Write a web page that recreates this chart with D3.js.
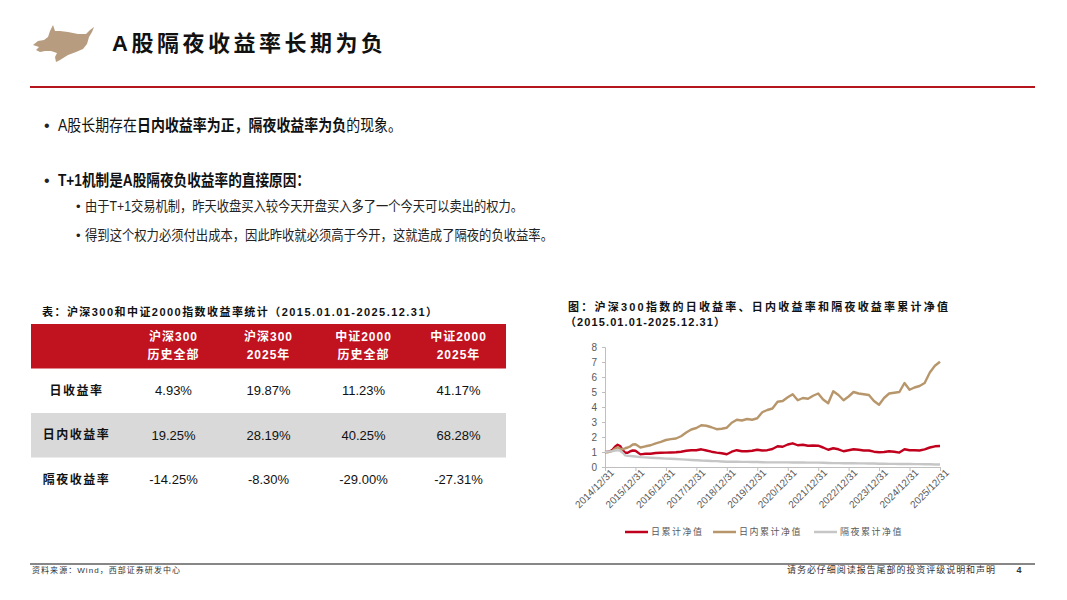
<!DOCTYPE html>
<html>
<head>
<meta charset="utf-8">
<script src="https://cdn.jsdelivr.net/npm/d3@7"></script>
<style>
  body { margin: 0; background: #fff; }
  svg { display: block; font-family: "Liberation Sans", "Noto Sans CJK SC", sans-serif; }
</style>
</head>
<body>
<svg id="page" width="1067" height="600"></svg>
<script>
// ---- data ----
const dates = [
  "2014-12","2015-01","2015-02","2015-03","2015-04","2015-05","2015-06","2015-07","2015-08","2015-09","2015-10","2015-11","2015-12",
  "2016-02","2016-04","2016-06","2016-08","2016-10","2016-12",
  "2017-02","2017-04","2017-06","2017-08","2017-10","2017-12",
  "2018-02","2018-04","2018-06","2018-08","2018-10","2018-12",
  "2019-02","2019-04","2019-06","2019-08","2019-10","2019-12",
  "2020-02","2020-04","2020-06","2020-08","2020-10","2020-12",
  "2021-02","2021-04","2021-06","2021-08","2021-10","2021-12",
  "2022-02","2022-04","2022-06","2022-08","2022-10","2022-12",
  "2023-02","2023-04","2023-06","2023-08","2023-10","2023-12",
  "2024-02","2024-04","2024-06","2024-08","2024-10","2024-12",
  "2025-02","2025-04","2025-06","2025-08","2025-10","2025-12"
]
const dailyNav = [
  1.00,1.02,1.05,1.15,1.35,1.48,1.40,1.12,0.95,0.95,1.05,1.10,1.08,
  0.84,0.88,0.88,0.93,0.95,0.96,
  0.97,0.98,1.02,1.08,1.12,1.12,
  1.18,1.10,1.02,0.96,0.92,0.85,
  1.02,1.12,1.05,1.05,1.08,1.15,
  1.10,1.12,1.20,1.38,1.35,1.50,
  1.58,1.45,1.48,1.42,1.43,1.42,
  1.30,1.15,1.25,1.18,1.05,1.12,
  1.18,1.15,1.10,1.10,1.02,0.98,
  1.00,1.05,1.02,0.96,1.18,1.12,
  1.12,1.10,1.18,1.30,1.38,1.40
]
const intradayNav = [
  1.00,0.98,1.02,1.08,1.22,1.32,1.22,1.18,1.25,1.30,1.38,1.50,1.52,
  1.30,1.38,1.45,1.58,1.68,1.80,
  1.86,1.90,2.05,2.30,2.50,2.60,
  2.78,2.75,2.65,2.52,2.55,2.62,
  2.95,3.15,3.10,3.20,3.15,3.25,
  3.65,3.80,3.90,4.35,4.40,4.65,
  4.85,4.45,4.60,4.55,4.75,4.90,
  4.50,4.25,5.05,4.80,4.45,4.70,
  5.00,4.90,4.85,4.80,4.40,4.15,
  4.60,4.90,4.95,5.00,5.60,5.15,
  5.30,5.40,5.60,6.30,6.75,7.02
]
const overnightNav = [
  1.00,1.03,1.03,1.06,1.10,1.12,1.08,0.95,0.78,0.74,0.73,0.72,0.70,
  0.66,0.64,0.62,0.60,0.58,0.56,
  0.55,0.53,0.51,0.49,0.47,0.45,
  0.43,0.42,0.40,0.39,0.37,0.35,
  0.35,0.35,0.34,0.34,0.33,0.33,
  0.32,0.31,0.31,0.31,0.31,0.31,
  0.30,0.30,0.30,0.29,0.29,0.29,
  0.28,0.27,0.26,0.26,0.25,0.25,
  0.25,0.24,0.24,0.23,0.23,0.22,
  0.22,0.21,0.21,0.20,0.20,0.20,
  0.19,0.19,0.18,0.18,0.17,0.17
]
const seriesNames = ["日累计净值", "日内累计净值", "隔夜累计净值"]
const xTickLabels = ["2014/12/31","2015/12/31","2016/12/31","2017/12/31","2018/12/31","2019/12/31",
  "2020/12/31","2021/12/31","2022/12/31","2023/12/31","2024/12/31","2025/12/31"]
const yTicks = [0, 1, 2, 3, 4, 5, 6, 7, 8]

const tableHeads = [["沪深300", "历史全部"], ["沪深300", "2025年"], ["中证2000", "历史全部"], ["中证2000", "2025年"]]
const rowLabels = ["日收益率", "日内收益率", "隔夜收益率"]
const dailyReturn = [4.93, 19.87, 11.23, 41.17]
const intradayReturn = [19.25, 28.19, 40.25, 68.28]
const overnightReturn = [-14.25, -8.30, -29.00, -27.31]

// ---- page ----
const svg = d3.select("#page")
const RED = "#c0121f"

// bull logo
svg.append("path")
  .attr("d", "M33,45 L38,41 L44,40 L48,37 L50,31 L53,25 L55,31 L60,31 L68,32 L78,34 L86,34 L90,30 L94,27 L92,32 L89,37 L87,44 L83,49 L76,52 L68,55 L60,60 L56,62 L55,57 L57,53 L51,51 L45,51 L40,52 L36,50 L39,47 Z")
  .attr("fill", "#b79c80")

svg.append("text")
  .attr("x", 112).attr("y", 51)
  .attr("font-size", 22).attr("font-weight", "bold")
  .attr("textLength", 271)
  .attr("fill", "#111")
  .text("A股隔夜收益率长期为负")

svg.append("line")
  .attr("x1", 30).attr("x2", 1035).attr("y1", 87).attr("y2", 87)
  .attr("stroke", "#b5161e").attr("stroke-width", 2)

// bullets
const bullet = (x, y, size) => svg.append("text").attr("x", x).attr("y", y)
  .attr("font-size", size).attr("fill", "#222").text("•")

// first bullet: mixed weights, laid out piece by piece then squeezed to width
bullet(44, 131, 16)
const b1 = svg.append("g")
const parts = [["A股长期存在", "normal"], ["日内收益率为正，隔夜收益率为负", "bold"], ["的现象。", "normal"]]
let cursor = 0
parts.forEach(([s, w]) => {
  const t = b1.append("text").attr("x", cursor).attr("y", 0)
    .attr("font-size", 16).attr("font-weight", w).attr("fill", "#111").text(s)
  cursor += t.node().getComputedTextLength()
})
b1.attr("transform", `translate(58,131) scale(${344 / cursor},1)`)

bullet(44, 186, 16)
svg.append("text").attr("x", 58).attr("y", 186)
  .attr("font-size", 16).attr("font-weight", "bold").attr("fill", "#111")
  .attr("textLength", 252).attr("lengthAdjust", "spacingAndGlyphs")
  .text("T+1机制是A股隔夜负收益率的直接原因：")

bullet(76, 211, 13)
svg.append("text").attr("x", 85).attr("y", 211)
  .attr("font-size", 14).attr("fill", "#222")
  .attr("textLength", 438).attr("lengthAdjust", "spacingAndGlyphs")
  .text("由于T+1交易机制，昨天收盘买入较今天开盘买入多了一个今天可以卖出的权力。")

bullet(76, 240, 13)
svg.append("text").attr("x", 85).attr("y", 240)
  .attr("font-size", 14).attr("fill", "#222")
  .attr("textLength", 468).attr("lengthAdjust", "spacingAndGlyphs")
  .text("得到这个权力必须付出成本，因此昨收就必须高于今开，这就造成了隔夜的负收益率。")

// ---- table ----
svg.append("text").attr("x", 42).attr("y", 316)
  .attr("font-size", 11).attr("font-weight", "bold").attr("fill", "#111")
  .attr("textLength", 395)
  .text("表：沪深300和中证2000指数收益率统计（2015.01.01-2025.12.31）")

const colX = d3.scaleBand().domain(d3.range(5)).range([31, 506])
const rowY = d3.scaleBand().domain(["head", ...rowLabels]).range([324, 502])
const table = svg.append("g")

table.append("rect")
  .attr("x", colX.range()[0]).attr("y", rowY("head"))
  .attr("width", colX.range()[1] - colX.range()[0]).attr("height", rowY.bandwidth())
  .attr("fill", RED)
table.append("rect")
  .attr("x", colX.range()[0]).attr("y", rowY(rowLabels[1]))
  .attr("width", colX.range()[1] - colX.range()[0]).attr("height", rowY.bandwidth())
  .attr("fill", "#d9d9d9")

const headMid = rowY("head") + rowY.bandwidth() / 2
tableHeads.forEach((lines, i) => {
  const cx = colX(i + 1) + colX.bandwidth() / 2
  lines.forEach((s, j) => {
    table.append("text")
      .attr("x", cx).attr("y", headMid + (j === 0 ? -9 : 9)).attr("dy", "0.35em")
      .attr("text-anchor", "middle").attr("font-size", 12).attr("font-weight", "bold")
      .attr("letter-spacing", 1).attr("fill", "#fff")
      .text(s)
  })
})

const rowValues = [dailyReturn, intradayReturn, overnightReturn]
rowLabels.forEach((lab, r) => {
  const cy = rowY(lab) + rowY.bandwidth() / 2
  table.append("text")
    .attr("x", colX(0) + colX.bandwidth() / 2 - 2).attr("y", cy).attr("dy", "0.35em")
    .attr("text-anchor", "middle").attr("font-size", 12).attr("font-weight", "bold")
    .attr("letter-spacing", 1.5).attr("fill", "#111")
    .text(lab)
  rowValues[r].forEach((v, i) => {
    table.append("text")
      .attr("x", colX(i + 1) + colX.bandwidth() / 2).attr("y", cy).attr("dy", "0.35em")
      .attr("text-anchor", "middle").attr("font-size", 13).attr("fill", "#111")
      .text(v.toFixed(2) + "%")
  })
})

// ---- chart ----
svg.append("text").attr("x", 568).attr("y", 311)
  .attr("font-size", 11).attr("font-weight", "bold").attr("fill", "#111")
  .attr("textLength", 380)
  .text("图：沪深300指数的日收益率、日内收益率和隔夜收益率累计净值")
svg.append("text").attr("x", 565).attr("y", 326)
  .attr("font-size", 11).attr("font-weight", "bold").attr("fill", "#111")
  .attr("textLength", 160)
  .text("（2015.01.01-2025.12.31）")

const parseMonth = d3.timeParse("%Y-%m")
const monthEnd = s => d3.timeDay.offset(d3.timeMonth.offset(parseMonth(s), 1), -1)
const parseTick = d3.timeParse("%Y/%m/%d")
const tickDates = xTickLabels.map(parseTick)

const x = d3.scaleTime().domain([tickDates[0], tickDates[tickDates.length - 1]]).range([605, 940])
const y = d3.scaleLinear().domain([0, 8]).range([467, 347])

const chart = svg.append("g")
const axisColor = "#bfbfbf"
const labelColor = "#595959"

const yAxis = chart.append("g").attr("transform", "translate(605,0)")
  .call(d3.axisLeft(y).tickValues(yTicks).tickSize(3).tickPadding(5).tickFormat(d3.format("d")))
yAxis.selectAll("path, line").attr("stroke", axisColor)
yAxis.selectAll("text").attr("fill", labelColor).attr("font-size", 10)
  .attr("font-family", "Liberation Sans, sans-serif")

const xAxis = chart.append("g").attr("transform", "translate(0,467)")
  .call(d3.axisBottom(x).tickValues(tickDates).tickSize(4).tickSizeOuter(0)
    .tickFormat((d, i) => xTickLabels[i]))
xAxis.selectAll("path, line").attr("stroke", axisColor)
xAxis.selectAll("text")
  .attr("fill", labelColor).attr("font-size", 10)
  .attr("font-family", "Liberation Sans, sans-serif")
  .attr("text-anchor", "end")
  .attr("dx", "2").attr("dy", "4")
  .attr("transform", "rotate(-45)")

const colors = ["#c0001c", "#b8966b", "#c6c6c6"]
const seriesData = [dailyNav, intradayNav, overnightNav]
const line = d3.line().x(d => x(d.date)).y(d => y(d.v))

seriesData.forEach((vals, k) => {
  const pts = dates.map((s, i) => ({ date: monthEnd(s), v: vals[i] }))
  pts[0].date = tickDates[0]
  pts[pts.length - 1].date = tickDates[tickDates.length - 1]
  chart.append("path")
    .datum(pts)
    .attr("fill", "none")
    .attr("stroke", colors[k])
    .attr("stroke-width", 2.4)
    .attr("stroke-linejoin", "round")
    .attr("d", line)
})

// legend
const legendX = [625, 713, 814]
const legend = chart.append("g")
seriesNames.forEach((name, k) => {
  legend.append("line")
    .attr("x1", legendX[k]).attr("x2", legendX[k] + 23)
    .attr("y1", 532).attr("y2", 532)
    .attr("stroke", colors[k]).attr("stroke-width", 2.5)
  legend.append("text")
    .attr("x", legendX[k] + 26).attr("y", 532).attr("dy", "0.35em")
    .attr("font-size", 9).attr("letter-spacing", 1.5).attr("fill", labelColor)
    .text(name)
})

// ---- footer ----
svg.append("line")
  .attr("x1", 30).attr("x2", 1035).attr("y1", 564).attr("y2", 564)
  .attr("stroke", "#111").attr("stroke-width", 1.2)
svg.append("text").attr("x", 32).attr("y", 573)
  .attr("font-size", 8).attr("fill", "#333").attr("textLength", 148)
  .text("资料来源：Wind，西部证券研发中心")
svg.append("text").attr("x", 787).attr("y", 573)
  .attr("font-size", 9).attr("fill", "#333").attr("textLength", 208)
  .text("请务必仔细阅读报告尾部的投资评级说明和声明")
svg.append("text").attr("x", 1019).attr("y", 573)
  .attr("font-size", 9).attr("font-weight", "bold").attr("fill", "#333")
  .attr("text-anchor", "middle")
  .text("4")
</script>
</body>
</html>
